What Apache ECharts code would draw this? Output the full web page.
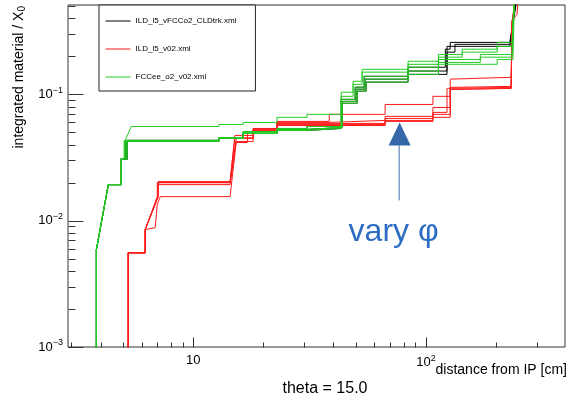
<!DOCTYPE html>
<html><head><meta charset="utf-8">
<script src="https://cdn.jsdelivr.net/npm/echarts@6/dist/echarts.min.js"></script>
<style>html,body{margin:0;padding:0;background:#fff}#c{width:568px;height:402px}</style>
</head><body><div id="c"></div>
<script>
const FONT = '"Liberation Sans", Arial, Helvetica, sans-serif';
const names = ['ILD_l5_vFCCo2_CLDtrk.xml', 'ILD_l5_v02.xml', 'FCCee_o2_v02.xml'];
const colors = ['#000000', '#ff1a1a', '#22cc22'];

const black1 = [[3.84,1e-4],[3.84,0.0059],[4.32,0.0193],[4.91,0.0193],[4.91,0.031],[5.21,0.0305],[5.21,0.0432],[12.9,0.0432],[12.9,0.0453],[16.4,0.0453],[16.4,0.049],[22.9,0.049],[22.9,0.0528],[30.8,0.0528],[30.8,0.0547],[43.6,0.0547],[43.6,0.085],[50.6,0.085],[50.6,0.106],[55.3,0.106],[55.3,0.125],[83.7,0.125],[83.7,0.144],[113,0.144],[123,0.144],[123,0.240],[229,0.240],[252,0.8]];
const black2 = [[3.84,1e-4],[3.84,0.0059],[4.32,0.0193],[4.91,0.0193],[4.91,0.031],[5.11,0.031],[5.11,0.0424],[12.9,0.0424],[12.9,0.0448],[16.4,0.0448],[16.4,0.049],[22.9,0.049],[22.9,0.0518],[30.8,0.0518],[30.8,0.0537],[43.2,0.0537],[43.2,0.0913],[49.6,0.0913],[49.6,0.114],[54.2,0.114],[54.2,0.139],[83.7,0.139],[83.7,0.164],[113,0.164],[121,0.164],[121,0.228],[127,0.228],[127,0.258],[229,0.258],[250,0.8]];
const black3 = [[3.84,1e-4],[3.84,0.0059],[4.32,0.0193],[4.91,0.0193],[4.91,0.031],[5.16,0.031],[5.16,0.0432],[12.9,0.0432],[12.9,0.0453],[16.4,0.0453],[16.4,0.0508],[22.9,0.0508],[22.9,0.0537],[30.8,0.0537],[30.8,0.0557],[43.6,0.0557],[43.6,0.088],[50.1,0.088],[50.1,0.11],[54.7,0.11],[54.7,0.132],[83.7,0.132],[83.7,0.153],[113,0.153],[123,0.153],[123,0.216],[133,0.216],[133,0.249],[229,0.249],[251,0.8]];

const red1 = [[5.26,1e-4],[5.26,0.00557],[6.22,0.00557],[6.22,0.0085],[7.07,0.0155],[7.07,0.0204],[14.4,0.0204],[15.1,0.0473],[18.1,0.0473],[18.1,0.0537],[22.9,0.0537],[22.9,0.0611],[38.4,0.0611],[38.4,0.0695],[66.7,0.0695],[66.7,0.0832],[107,0.0832],[107,0.0965],[127,0.0965],[127,0.132],[232,0.1365],[234,0.387],[246,0.43],[250,0.8]];
const red2 = [[5.26,1e-4],[5.26,0.00557],[6.22,0.00557],[6.22,0.0085],[7.07,0.0155],[7.07,0.020],[14.4,0.020],[15.1,0.0453],[18.1,0.0453],[18.1,0.0537],[22.9,0.0537],[22.9,0.060],[38.4,0.060],[38.4,0.0622],[66.7,0.0622],[66.7,0.067],[107,0.067],[107,0.0787],[127,0.0787],[127,0.1136],[232,0.1157],[234,0.3795],[248,0.8]];
const red3 = [[5.26,1e-4],[5.26,0.00557],[6.22,0.00557],[6.22,0.0085],[7.07,0.0155],[7.07,0.0193],[14.4,0.0193],[15.3,0.0424],[18.1,0.0424],[18.1,0.0528],[22.9,0.0528],[22.9,0.0589],[66.7,0.0589],[66.7,0.0645],[107,0.0645],[107,0.072],[123,0.072],[123,0.1116],[232,0.1136],[234,0.3594],[248,0.8]];
const red4 = [[5.26,1e-4],[5.26,0.00557],[6.22,0.00557],[6.22,0.0085],[7.01,0.0155],[7.01,0.020],[14.4,0.020],[15.3,0.0448],[18.1,0.0448],[18.1,0.0518],[22.9,0.0518],[22.9,0.0578],[66.7,0.0578],[66.7,0.0622],[107,0.0622],[107,0.0695],[127,0.0695],[127,0.1095],[232,0.1116],[234,0.3594],[248,0.8]];
const red5 = [[5.26,1e-4],[5.26,0.00557],[6.22,0.00557],[6.22,0.0085],[6.87,0.0088],[7.01,0.0134],[7.22,0.0155],[14.4,0.0155],[15.3,0.0416],[17.1,0.0416],[17.1,0.0508],[22.9,0.0508],[22.9,0.0567],[66.7,0.0567],[66.7,0.0611],[107,0.0611],[107,0.0658],[127,0.0658],[127,0.1095],[232,0.1116],[234,0.3594],[248,0.8]];

const green1 = [[3.84,1e-4],[3.84,0.0059],[4.32,0.0193],[4.91,0.0193],[4.91,0.031],[5.06,0.031],[5.06,0.0416],[5.42,0.0557],[12.9,0.0557],[12.9,0.0578],[16.4,0.0578],[16.4,0.060],[22.9,0.060],[22.9,0.0658],[30.8,0.0658],[30.8,0.0695],[43.2,0.0695],[43.2,0.104],[48.6,0.104],[48.6,0.127],[53.1,0.127],[53.1,0.158],[83.7,0.158],[83.7,0.183],[113,0.183],[113,0.207],[143,0.207],[143,0.228],[202,0.228],[202,0.258],[234,0.258],[241,0.8]];
const green2 = [[3.84,1e-4],[3.84,0.0059],[4.32,0.0193],[4.91,0.0193],[4.91,0.031],[5.06,0.031],[5.06,0.0432],[12.9,0.0432],[12.9,0.0453],[16.4,0.0453],[16.4,0.050],[22.9,0.050],[22.9,0.0528],[30.8,0.0528],[30.8,0.0547],[43.2,0.0547],[43.2,0.0965],[48.6,0.0965],[48.6,0.120],[53.1,0.120],[53.1,0.150],[83.7,0.150],[83.7,0.173],[113,0.173],[113,0.197],[143,0.197],[143,0.216],[202,0.216],[202,0.240],[234,0.240],[241,0.8]];
const green3 = [[3.84,1e-4],[3.84,0.0059],[4.32,0.0193],[4.91,0.0193],[4.91,0.031],[5.11,0.031],[5.11,0.0424],[12.9,0.0424],[12.9,0.0448],[16.4,0.0448],[16.4,0.049],[22.9,0.049],[22.9,0.0518],[30.8,0.0518],[30.8,0.0537],[43.2,0.0537],[43.2,0.0913],[49.6,0.0913],[49.6,0.114],[54.2,0.114],[54.2,0.139],[83.7,0.139],[83.7,0.164],[113,0.164],[113,0.189],[171,0.189],[171,0.207],[234,0.207],[241,0.8]];
const green4 = [[3.84,1e-4],[3.84,0.0059],[4.32,0.0193],[4.91,0.0193],[4.91,0.031],[5.16,0.031],[5.16,0.0432],[12.9,0.0432],[12.9,0.0453],[16.4,0.0453],[16.4,0.0508],[22.9,0.0508],[22.9,0.0537],[30.8,0.0537],[30.8,0.0557],[43.6,0.0557],[43.6,0.088],[50.1,0.088],[50.1,0.11],[54.7,0.11],[54.7,0.132],[83.7,0.132],[83.7,0.153],[113,0.153],[113,0.179],[171,0.179],[171,0.197],[234,0.197],[241,0.8]];
const green5 = [[3.84,1e-4],[3.84,0.0059],[4.32,0.0193],[4.91,0.0193],[4.91,0.031],[5.21,0.0305],[5.21,0.0432],[12.9,0.0432],[12.9,0.0453],[16.4,0.0453],[16.4,0.049],[22.9,0.049],[22.9,0.0528],[30.8,0.0528],[30.8,0.0547],[43.6,0.0547],[43.6,0.085],[50.6,0.085],[50.6,0.106],[55.3,0.106],[55.3,0.125],[83.7,0.125],[83.7,0.144],[113,0.144],[113,0.173],[202,0.173],[202,0.189],[236,0.189],[241,0.8]];

const xRange = [2.9, 395];
const yRange = [0.001, 0.51];
const xMajorTicks = [10, 100];
const xMinorTicks = [3,4,5,6,7,8,9,20,30,40,50,60,70,80,90,200,300];
const yMajorTicks = [0.001, 0.01, 0.1];
const yMinorTicks = [0.002,0.003,0.004,0.005,0.006,0.007,0.008,0.009,0.02,0.03,0.04,0.05,0.06,0.07,0.08,0.09,0.2,0.3,0.4,0.5];
const arrowAnchor = [77, 0.06];

const groups = [
  {name: names[0], color: colors[0], lines: [black1, black2, black3]},
  {name: names[1], color: colors[1], lines: [red1, red2, red3, red4, red5]},
  {name: names[2], color: colors[2], lines: [green1, green2, green3, green4, green5]}
];
const series = [];
groups.forEach(g => g.lines.forEach(d => series.push({
  type: 'line', name: g.name, data: d, symbol: 'none', showSymbol: false,
  lineStyle: {color: g.color, width: 1}, itemStyle: {color: g.color},
  clip: true, silent: true, animation: false
})));

function isDecade(v) { const e = Math.log10(v); return Math.abs(e - Math.round(e)) < 1e-6; }

const chart = echarts.init(document.getElementById('c'), null, {renderer: 'canvas'});
chart.setOption({
  animation: false,
  backgroundColor: '#fff',
  grid: {left: 68, right: 2, top: 5, bottom: 55, show: true, borderColor: '#333', borderWidth: 1, backgroundColor: 'transparent'},
  xAxis: {
    type: 'log', logBase: 10, min: xRange[0], max: xRange[1],
    axisLine: {show: false}, axisTick: {show: false}, splitLine: {show: false},
    axisLabel: {
      margin: 7, color: '#000', fontFamily: FONT, fontSize: 13,
      formatter: v => { if (!isDecade(v)) return ''; const e = Math.round(Math.log10(v)); return e === 1 ? '10' : '10{sup|' + e + '}'; },
      rich: {sup: {fontSize: 9, fontFamily: FONT, color: '#000', verticalAlign: 'top', padding: [0, 0, 8, 0]}}
    }
  },
  yAxis: {
    type: 'log', logBase: 10, min: yRange[0], max: yRange[1],
    axisLine: {show: false}, axisTick: {show: false}, splitLine: {show: false},
    axisLabel: {
      margin: 5, color: '#000', fontFamily: FONT, fontSize: 13,
      formatter: v => { if (!isDecade(v)) return ''; const e = Math.round(Math.log10(v)); return '10{sup|\u2212' + Math.abs(e) + '}'; },
      rich: {sup: {fontSize: 9, fontFamily: FONT, color: '#000', verticalAlign: 'top', padding: [0, 0, 8, 0]}}
    }
  },
  legend: {
    left: 99, top: 5, orient: 'vertical', selectedMode: false,
    data: names,
    itemWidth: 25, itemHeight: 10, itemGap: 18,
    padding: [11, 19, 9, 6],
    borderColor: '#222', borderWidth: 1, backgroundColor: '#fff',
    itemStyle: {opacity: 0, borderWidth: 0},
    lineStyle: {width: 1},
    textStyle: {fontSize: 8, fontFamily: FONT, color: '#000', lineHeight: 10}
  },
  series: series
});

function px(v) { return chart.convertToPixel({xAxisIndex: 0}, v); }
function py(v) { return chart.convertToPixel({yAxisIndex: 0}, v); }
const yb = Math.round(py(yRange[0])) + 0.5;
const xl = Math.round(px(xRange[0])) + 0.5;
const graphics = [];
const tickStyle = {stroke: '#333', lineWidth: 1};
xMajorTicks.forEach(v => { const x = Math.round(px(v)) + 0.5; graphics.push({type: 'line', shape: {x1: x, y1: yb, x2: x, y2: yb - 10}, style: tickStyle, silent: true}); });
xMinorTicks.forEach(v => { const x = Math.round(px(v)) + 0.5; graphics.push({type: 'line', shape: {x1: x, y1: yb, x2: x, y2: yb - 5}, style: tickStyle, silent: true}); });
yMajorTicks.forEach(v => { const y = Math.round(py(v)) + 0.5; graphics.push({type: 'line', shape: {x1: xl, y1: y, x2: xl + 15, y2: y}, style: tickStyle, silent: true}); });
yMinorTicks.forEach(v => { const y = Math.round(py(v)) + 0.5; graphics.push({type: 'line', shape: {x1: xl, y1: y, x2: xl + 7, y2: y}, style: tickStyle, silent: true}); });

graphics.push({type: 'text', x: 19, y: 6, rotation: Math.PI / 2, silent: true,
  style: {text: 'integrated material / X{sub|0}', fontFamily: FONT, fontSize: 14, fill: '#000', align: 'right', verticalAlign: 'middle',
    rich: {sub: {fontSize: 10, fontFamily: FONT, fill: '#000', verticalAlign: 'bottom', padding: [7, 0, 0, 0]}}}});
graphics.push({type: 'text', x: 567, y: 370, silent: true,
  style: {text: 'distance from IP [cm]', fontFamily: FONT, fontSize: 14, fill: '#000', align: 'right', verticalAlign: 'middle'}});
graphics.push({type: 'text', x: 325, y: 389, silent: true,
  style: {text: 'theta = 15.0', fontFamily: FONT, fontSize: 16, fill: '#000', align: 'center', verticalAlign: 'middle'}});
const ax = px(arrowAnchor[0]), ay = py(arrowAnchor[1]);
graphics.push({type: 'polygon', silent: true, shape: {points: [[ax, ay], [ax - 11, ay + 23], [ax + 11, ay + 23]]}, style: {fill: '#3567a9'}});
graphics.push({type: 'line', silent: true, shape: {x1: ax - 0.5, y1: ay + 23, x2: ax - 0.5, y2: ay + 78}, style: {stroke: '#3f6aa6', lineWidth: 1}});
graphics.push({type: 'text', x: ax - 6, y: ay + 110, silent: true,
  style: {text: 'vary \u03c6', fontFamily: FONT, fontSize: 32, fill: '#2c6cc2', align: 'center', verticalAlign: 'middle'}});
chart.setOption({graphic: graphics});
</script></body></html>
